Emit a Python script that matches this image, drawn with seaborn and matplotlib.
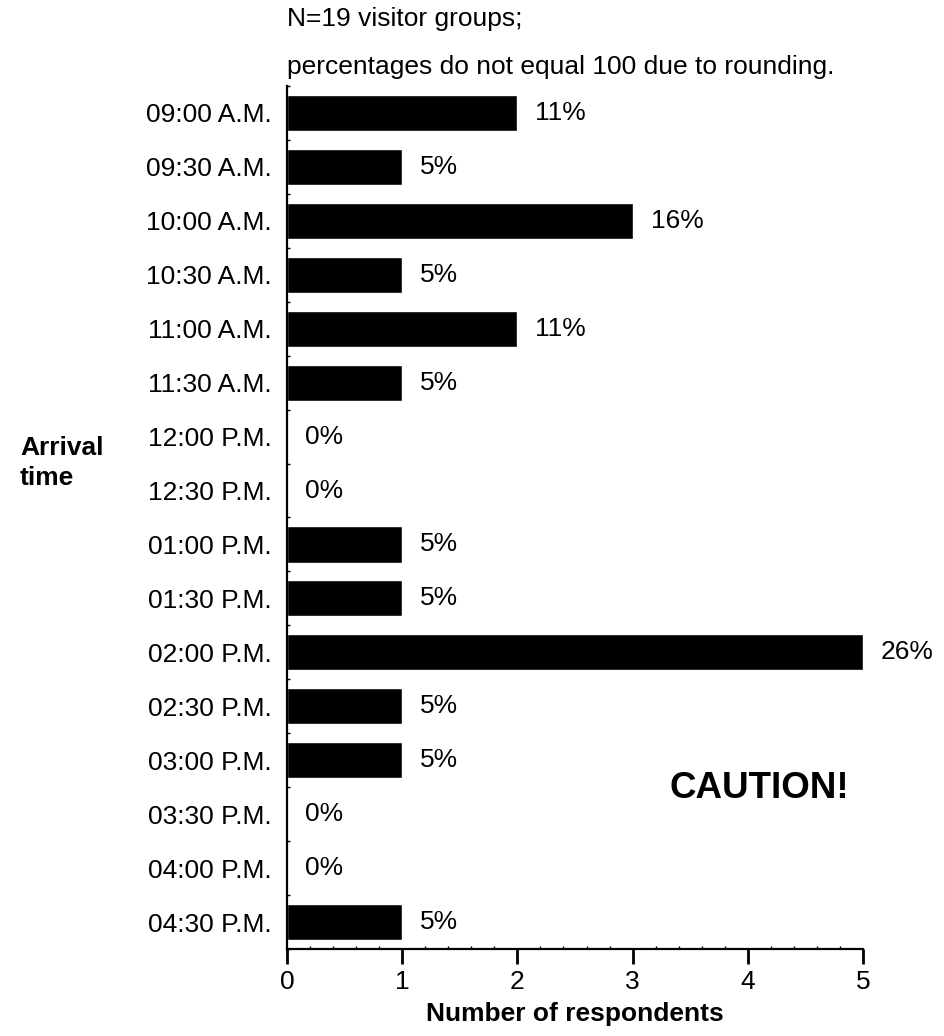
import matplotlib
matplotlib.use('Agg')
import matplotlib.pyplot as plt
import seaborn as sns
import pandas as pd
from matplotlib.ticker import MultipleLocator

# Arrival time survey data
times = ['09:00 A.M.', '09:30 A.M.', '10:00 A.M.', '10:30 A.M.', '11:00 A.M.',
         '11:30 A.M.', '12:00 P.M.', '12:30 P.M.', '01:00 P.M.', '01:30 P.M.',
         '02:00 P.M.', '02:30 P.M.', '03:00 P.M.', '03:30 P.M.', '04:00 P.M.',
         '04:30 P.M.']
counts = [2, 1, 3, 1, 2, 1, 0, 0, 1, 1, 5, 1, 1, 0, 0, 1]
pct_labels = ['11%', '5%', '16%', '5%', '11%', '5%', '0%', '0%', '5%', '5%',
              '26%', '5%', '5%', '0%', '0%', '5%']

df = pd.DataFrame({'time': times, 'count': counts})

sns.set_style('white')
plt.rcParams['font.family'] = ['Liberation Sans', 'DejaVu Sans']
plt.rcParams['text.color'] = 'black'
plt.rcParams['axes.labelcolor'] = 'black'
plt.rcParams['xtick.color'] = 'black'
plt.rcParams['ytick.color'] = 'black'

fs = 19
fig = plt.figure(figsize=(9.45, 10.36), dpi=100)
ax = fig.add_axes([0.3037, 0.084, 0.6095, 0.833])

sns.barplot(data=df, x='count', y='time', order=times, color='black',
            saturation=1, width=0.67, ax=ax)

for patch, lab in zip(ax.patches, pct_labels):
    w = patch.get_width()
    y = patch.get_y() + patch.get_height() / 2
    ax.annotate(lab, (w, y), xytext=(13, 0), textcoords='offset points',
                va='center', ha='left', fontsize=fs, clip_on=False)

ax.set_xlim(0, 5)
ax.set_ylim(15.5, -0.5)
ax.xaxis.set_major_locator(MultipleLocator(1))
ax.xaxis.set_minor_locator(MultipleLocator(0.2))
ax.yaxis.set_minor_locator(MultipleLocator(1, offset=0.5))
ax.tick_params(axis='x', which='major', direction='out', length=11, width=2,
               labelsize=fs, pad=4, bottom=True)
ax.tick_params(axis='x', which='minor', direction='in', length=2, width=1, bottom=True)
ax.tick_params(axis='y', which='major', length=0, labelsize=fs, pad=11)
ax.tick_params(axis='y', which='minor', direction='in', length=2, width=1, left=True)

for s in ['top', 'right']:
    ax.spines[s].set_visible(False)
for s in ['left', 'bottom']:
    ax.spines[s].set_linewidth(1.6)
    ax.spines[s].set_color('black')

ax.set_xlabel('Number of respondents', fontsize=fs, fontweight='bold', labelpad=6)
ax.set_ylabel('')

fig.text(0.021, 0.553, 'Arrival\ntime', fontsize=fs, fontweight='bold',
         ha='left', va='center', linespacing=1.3)
fig.text(0.3037, 0.982, 'N=19 visitor groups;', fontsize=fs, ha='left', va='center')
fig.text(0.3037, 0.935, 'percentages do not equal 100 due to rounding.',
         fontsize=fs, ha='left', va='center')
fig.text(0.804, 0.239, 'CAUTION!', fontsize=26.5, fontweight='bold',
         ha='center', va='center')

fig.savefig('out.png', dpi=100)
